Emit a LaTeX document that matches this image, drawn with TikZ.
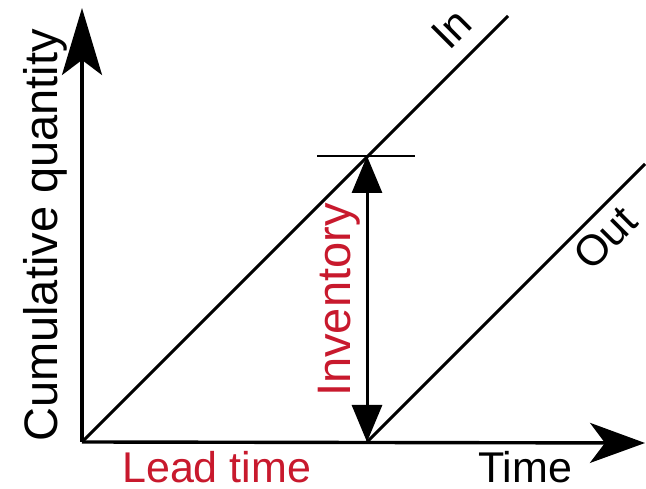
\documentclass[tikz,border=0pt]{standalone}
\usepackage{fontspec}
\setmainfont{Liberation Sans}
\usetikzlibrary{arrows.meta}
\definecolor{labred}{RGB}{200,25,45}
\tikzset{
  axis/.style={line width=3.4pt, -{Stealth[length=#1, width=40pt, inset=15pt]}},
  curve/.style={line width=3pt},
  invarrow/.style={line width=3pt, {Triangle[length=37pt, width=30pt]}-{Triangle[length=37pt, width=30pt]}},
  tickline/.style={line width=2pt},
  lbl/.style={inner sep=0pt, font=\fontsize{43}{43}\selectfont},
  vlbl/.style={inner sep=0pt, font=\fontsize{47}{47}\selectfont, rotate=90, anchor=base west},
}
\begin{document}
\begin{tikzpicture}[x=1pt,y=1pt]
\useasboundingbox (0,0) rectangle (646,489);
\fill[white] (0,0) rectangle (646,489);
\coordinate (O) at (82,47);
\coordinate (Ytop) at (82,481);
\coordinate (Xend) at (645,46);
\coordinate (Q) at (367,47);
\coordinate (P) at (367,333);
\coordinate (InEnd) at (508,473);
\coordinate (OutEnd) at (645,325);
\coordinate (TickL) at (317,333);
\coordinate (TickR) at (415,333);
% curves
\draw[curve] (O) -- (InEnd);
\draw[curve] (Q) -- (OutEnd);
% axes
\draw[axis=67pt] (O) -- (Ytop);
\draw[axis=55pt] (O) -- (Xend);
% tick and inventory arrow
\draw[tickline] (TickL) -- (TickR);
\draw[invarrow] (Q) -- (P);
% labels
\node[lbl, anchor=base west] (time) at (478,6) {Time};
\node[lbl, anchor=base west, text=labred] (lead) at (122,6) {Lead time};
\node[vlbl] (cum) at (57,47) {Cumulative quantity};
\node[vlbl, text=labred] (inv) at (350,92) {Inventory};
\node[lbl, rotate=45, anchor=base west] (in) at (449,437) {In};
\node[lbl, rotate=45, anchor=base west] (out) at (591,216) {Out};
\end{tikzpicture}
\end{document}
